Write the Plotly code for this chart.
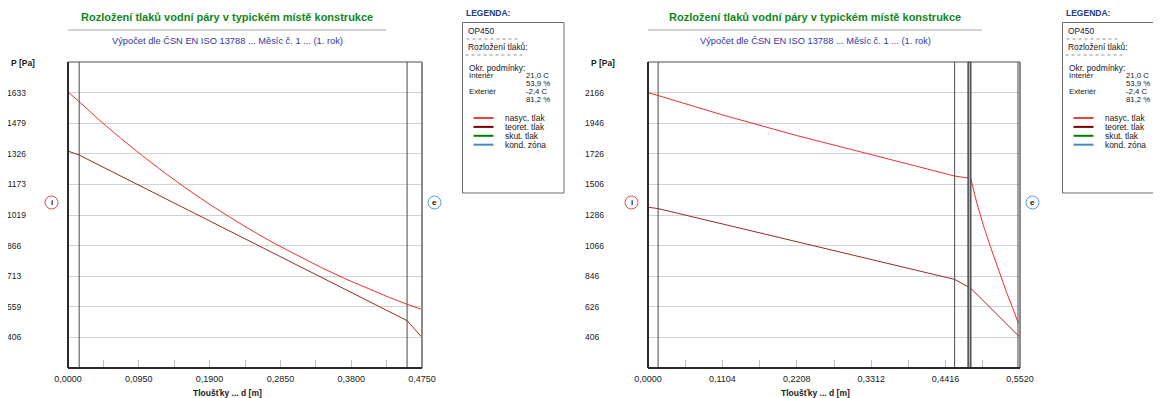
import plotly.graph_objects as go

# page body has an 8px margin; the figure is sized to fill the rest of the 1161x398 window
OFF = 8
W, H = 1161 - OFF, 398 - OFF

# ---------------- data ----------------
title_text = "Rozložení tlaků vodní páry v typickém místě konstrukce"
subtitle_text = "Výpočet dle ČSN EN ISO 13788 ... Měsíc č. 1 ... (1. rok)"
x_title = "Tloušťky ... d [m]"
y_title = "P [Pa]"

# left panel
left_sat_d = [0, 0.015, 0.04, 0.07, 0.10, 0.13, 0.16, 0.19, 0.22, 0.25, 0.28, 0.31,
              0.34, 0.37, 0.40, 0.43, 0.455, 0.475]
left_sat_p = [1636, 1588, 1502, 1406, 1316, 1230, 1149, 1073, 1002, 934, 871, 812,
              756, 703, 654, 608, 572, 546]
left_teor_d = [0, 0.015, 0.455, 0.475]
left_teor_p = [1340, 1320, 490, 406]
left_layers = [0.015, 0.455]
left_xmax = 0.475
left_xdtick = 0.095
left_yticks = [406, 559, 713, 866, 1019, 1173, 1326, 1479, 1633]
left_yrange = [252.6, 1786.4]

# right panel
right_sat_d = [0, 0.015, 0.11, 0.22, 0.33, 0.455, 0.475, 0.479, 0.488, 0.498, 0.508,
               0.520, 0.532, 0.541, 0.549, 0.552]
right_sat_p = [2166, 2145, 2006, 1858, 1722, 1566, 1552, 1546, 1370, 1205, 1060,
               890, 730, 620, 515, 512]
right_teor_d = [0, 0.015, 0.455, 0.475, 0.479, 0.552]
right_teor_p = [1342, 1332, 823, 770, 759, 406]
right_layers = [0.015, 0.455, 0.475, 0.479, 0.549]
right_band = [0.475, 0.479]
right_xmax = 0.552
right_xdtick = 0.1104
right_yticks = [406, 626, 846, 1066, 1286, 1506, 1726, 1946, 2166]
right_yrange = [186, 2386]

legend_title = "LEGENDA:"
legend_name = "OP450"
legend_sub = "Rozložení tlaků:"
legend_cond = "Okr. podmínky:"
cond_rows = [("Interiér", "21,0 C"), ("", "53,9 %"), ("Exteriér", "-2,4 C"), ("", "81,2 %")]
legend_items = ["nasyc. tlak", "teoret. tlak", "skut. tlak", "kond. zóna"]
legend_colors = ["#f04040", "#800000", "#008000", "#4a88c8"]

SAT_COLOR = "#ee3030"
TEOR_COLOR = "#962a2a"
FONT = "Liberation Sans"


def px(x):
    return (x - OFF) / W


def py(y):
    return 1 - (y - OFF) / H


fig = go.Figure()
shapes = []
annots = []


def panel(idx, sat_d, sat_p, teor_d, teor_p, layers, xmax, xdtick, yticks, yrange,
          x0px, x1px, line_right, title_cx, standoff, legend_dx, band=None):
    xa = "x" if idx == 1 else "x%d" % idx
    ya = "y" if idx == 1 else "y%d" % idx
    fig.add_trace(go.Scatter(x=teor_d, y=teor_p, mode="lines", xaxis=xa, yaxis=ya,
                             line=dict(color=TEOR_COLOR, width=1), showlegend=False,
                             hoverinfo="skip"))
    fig.add_trace(go.Scatter(x=sat_d, y=sat_p, mode="lines", xaxis=xa, yaxis=ya,
                             line=dict(color=SAT_COLOR, width=1), showlegend=False,
                             hoverinfo="skip"))
    xkey = "xaxis" if idx == 1 else "xaxis%d" % idx
    ykey = "yaxis" if idx == 1 else "yaxis%d" % idx
    ticktext = [("%d" % v) + ("\u2007" if v < 1000 else "") for v in yticks]
    fig.update_layout(**{
        xkey: dict(domain=[px(x0px), px(x1px)], range=[0, xmax], anchor=ya,
                   automargin=False,
                   showgrid=False, zeroline=False, showline=False,
                   tickmode="linear", tick0=0, dtick=xdtick, tickformat=".4f",
                   ticks="inside", ticklen=8, tickcolor="#bdbdbd", tickwidth=1,
                   ticklabelstandoff=4,
                   minor=dict(ticks="inside", ticklen=8, tickcolor="#bdbdbd",
                              tickwidth=1, dtick=xdtick / 2, tick0=0, showgrid=False),
                   tickfont=dict(family=FONT, size=9, color="#202020")),
        ykey: dict(domain=[py(368), py(62)], range=yrange, anchor=xa,
                   automargin=False,
                   showgrid=True, gridcolor="#d2d2d2", gridwidth=1, zeroline=False,
                   showline=False, ticks="", tickmode="array", tickvals=yticks,
                   ticktext=ticktext, ticklabelstandoff=standoff,
                   tickfont=dict(family=FONT, size=8.5, color="#202020")),
    })
    xd = xa + " domain"
    yd = ya + " domain"
    # layer boundaries
    if band:
        shapes.append(dict(type="rect", xref=xa, yref=yd, x0=band[0], x1=band[1], y0=0, y1=1,
                           fillcolor="#b4b4b4", line=dict(color="#505050", width=1)))
    for b in layers:
        shapes.append(dict(type="line", xref=xa, yref=yd, x0=b, x1=b, y0=0, y1=1,
                           line=dict(color="#4a4a4a", width=1)))
    # frame
    shapes.append(dict(type="line", xref=xd, yref=yd, x0=0, x1=1, y0=1, y1=1,
                       line=dict(color="#505050", width=1)))
    shapes.append(dict(type="line", xref=xd, yref=yd, x0=1, x1=1, y0=0, y1=1,
                       line=dict(color="#8c8c8c", width=2)))
    shapes.append(dict(type="line", xref=xd, yref=yd, x0=0, x1=0, y0=0, y1=1,
                       line=dict(color="#2a2a2a", width=2)))
    shapes.append(dict(type="line", xref=xd, yref=yd, x0=0, x1=1, y0=0, y1=0,
                       line=dict(color="#2a2a2a", width=2)))
    # title, rule, subtitle
    annots.append(dict(text="<b>%s</b>" % title_text, x=px(title_cx), y=py(16.5),
                       xref="paper", yref="paper", showarrow=False,
                       xanchor="center", yanchor="middle",
                       font=dict(family=FONT, size=11, color="#11881a")))
    shapes.append(dict(type="line", xref="paper", yref="paper", x0=px(x0px), x1=px(line_right),
                       y0=py(30), y1=py(30), line=dict(color="#a8a8a8", width=1)))
    annots.append(dict(text=subtitle_text, x=px(title_cx), y=py(40.5),
                       xref="paper", yref="paper", showarrow=False,
                       xanchor="center", yanchor="middle",
                       font=dict(family=FONT, size=9.3, color="#3434a8")))
    # axis titles
    annots.append(dict(text="<b>%s</b>" % y_title, x=px(x0px - 59), y=py(63),
                       xref="paper", yref="paper", showarrow=False, xanchor="left",
                       yanchor="middle",
                       font=dict(family=FONT, size=8.5, color="#202020")))
    annots.append(dict(text="<b>%s</b>" % x_title, x=px(title_cx), y=py(393),
                       xref="paper", yref="paper", showarrow=False,
                       xanchor="center", yanchor="middle",
                       font=dict(family=FONT, size=8.5, color="#202020")))
    # i / e markers
    for cx, letter, col in [(x0px - 16.5, "i", "#e05050"), (x1px + 12.5, "e", "#5a9ad8")]:
        shapes.append(dict(type="circle", xref="paper", yref="paper",
                           x0=px(cx - 6.5), x1=px(cx + 6.5), y0=py(202.5 + 6.5), y1=py(202.5 - 6.5),
                           line=dict(color=col, width=1), fillcolor="white"))
        annots.append(dict(text="<b>%s</b>" % letter, x=px(cx), y=py(202.5), xref="paper",
                           yref="paper", showarrow=False, xanchor="center", yanchor="middle",
                           font=dict(family=FONT, size=8, color="#101010")))
    # legend
    lx = 462.5 + legend_dx

    def txt(t, x, y, size=8.4, color="#202020", bold=False):
        annots.append(dict(text=("<b>%s</b>" % t) if bold else t, x=px(x), y=py(y),
                           xref="paper", yref="paper", showarrow=False, xanchor="left",
                           yanchor="middle", borderpad=0,
                           font=dict(family=FONT, size=size, color=color)))

    txt(legend_title, lx + 2, 13, size=8.5, color="#1e3c7c", bold=True)
    shapes.append(dict(type="rect", xref="paper", yref="paper", x0=px(lx), x1=px(lx + 101.5),
                       y0=py(193), y1=py(22.5), line=dict(color="#6a6a6a", width=1),
                       fillcolor="white", layer="below"))
    txt(legend_name, lx + 4, 30.5)
    shapes.append(dict(type="line", xref="paper", yref="paper", x0=px(lx + 4), x1=px(lx + 56),
                       y0=py(39), y1=py(39), line=dict(color="#909090", width=1, dash="dot")))
    txt(legend_sub, lx + 4, 47)
    shapes.append(dict(type="line", xref="paper", yref="paper", x0=px(lx + 3), x1=px(lx + 60),
                       y0=py(55), y1=py(55), line=dict(color="#909090", width=1, dash="dot")))
    txt(legend_cond, lx + 5, 68)
    for k, (a, b) in enumerate(cond_rows):
        yy = 75.6 + k * 8.0
        if a:
            txt(a, lx + 5, yy, size=7.8)
        txt(b, lx + 62, yy, size=7.8)
    for k, (name, col) in enumerate(zip(legend_items, legend_colors)):
        yy = 118 + k * 8.9
        shapes.append(dict(type="line", xref="paper", yref="paper", x0=px(lx + 11), x1=px(lx + 31),
                           y0=py(yy), y1=py(yy), line=dict(color=col, width=2)))
        txt(name, lx + 41, yy)


panel(1, left_sat_d, left_sat_p, left_teor_d, left_teor_p, left_layers, left_xmax,
      left_xdtick, left_yticks, left_yrange, 68, 422, 386, 227, 41, 0)
panel(2, right_sat_d, right_sat_p, right_teor_d, right_teor_p, right_layers, right_xmax,
      right_xdtick, right_yticks, right_yrange, 648, 1020, 982, 815, 43, 600, band=right_band)

fig.update_layout(width=W, height=H, autosize=False,
                  margin=dict(l=0, r=0, t=0, b=0, pad=0),
                  paper_bgcolor="white", plot_bgcolor="white",
                  separators=", ", showlegend=False,
                  font=dict(family=FONT, size=9, color="#202020"),
                  shapes=shapes, annotations=annots)

fig.write_html("out.html")
